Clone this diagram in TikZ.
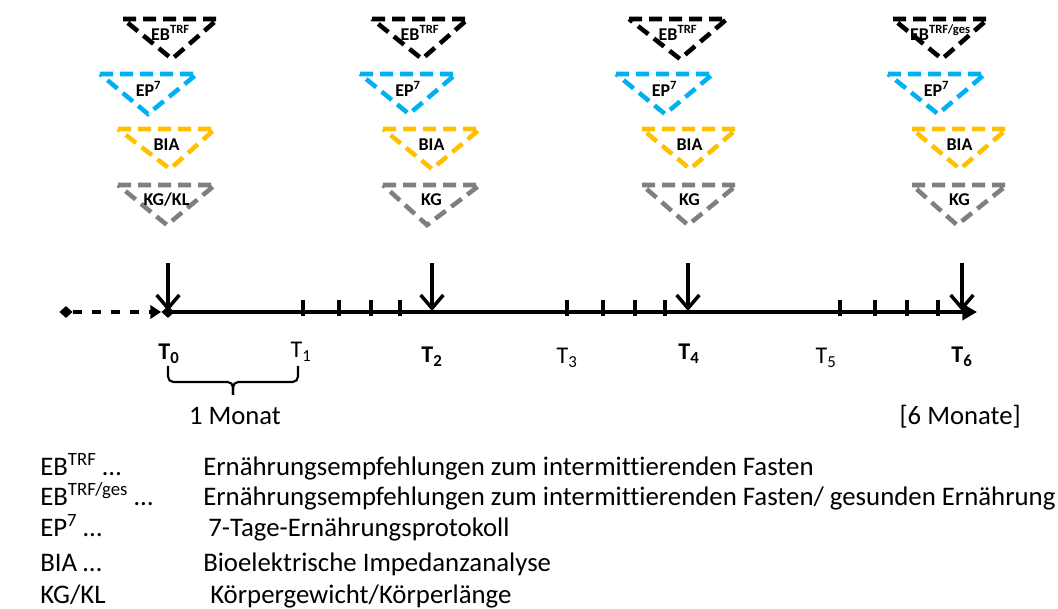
\documentclass[tikz,border=0pt]{standalone}
\usepackage{fontspec}
\setmainfont{Carlito}[Ligatures=NoCommon]
\usetikzlibrary{arrows.meta,shapes.geometric}
\definecolor{cblue}{HTML}{00B0F0}
\definecolor{cyellow}{HTML}{FFC000}
\definecolor{cgray}{HTML}{7F7F7F}
\tikzset{
  tri/.style={line width=3.4pt, dash pattern=on 9.75pt off 5.25pt, line join=miter},
  trilabel/.style={font=\fontsize{13.5}{15}\selectfont\bfseries, inner sep=0pt},
  tlabel/.style={font=\fontsize{18}{20}\selectfont, inner sep=0pt, anchor=base},
  big/.style={font=\fontsize{20}{22}\selectfont, inner sep=0pt},
  legend/.style={font=\fontsize{20.1}{22}\selectfont, inner sep=0pt, anchor=base west},
  downarrow/.style={line width=2.6pt, -{Straight Barb[length=10pt,width=17pt,line width=2.6pt]}},
  dmd/.style={diamond, fill=black, inner sep=0pt, minimum width=10pt, minimum height=9pt},
  tick/.style={line width=2.3pt}
}
\newcommand{\tria}[5]{% x1 x2 y apex color
  \draw[tri,#5] (#1,#3) -- (#2,#3) -- (#4,#3+40) -- cycle;}
\begin{document}
\begin{tikzpicture}[x=0.75pt,y=-0.75pt]
\useasboundingbox (0,0) rectangle (1058,609);
% --- triangles column 1
\tria{123}{218}{19}{172}{black}
\node[trilabel] (l1a) at (170.5,33) {EB\textsuperscript{TRF}};
\tria{100}{197}{74}{148}{cblue}
\node[trilabel] (l1b) at (148.5,89) {EP\textsuperscript{7}};
\tria{118}{215}{129}{170}{cyellow}
\node[trilabel] (l1c) at (166.5,145) {BIA};
\tria{118}{215}{185}{167}{cgray}
\node[trilabel] (l1d) at (166.5,200) {KG/KL};
% --- column 2
\tria{372}{468}{19}{422}{black}
\node[trilabel] (l2a) at (420,33) {EB\textsuperscript{TRF}};
\tria{360}{456}{74}{409}{cblue}
\node[trilabel] (l2b) at (408,89) {EP\textsuperscript{7}};
\tria{383}{480}{129}{432}{cyellow}
\node[trilabel] (l2c) at (431.5,145) {BIA};
\tria{383}{480}{185}{427}{cgray}
\node[trilabel] (l2d) at (431.5,200) {KG};
% --- column 3
\tria{629}{727}{19}{680}{black}
\node[trilabel] (l3a) at (678,33) {EB\textsuperscript{TRF}};
\tria{616}{713}{74}{665}{cblue}
\node[trilabel] (l3b) at (664.5,89) {EP\textsuperscript{7}};
\tria{642}{737}{129}{690}{cyellow}
\node[trilabel] (l3c) at (689.5,145) {BIA};
\tria{642}{737}{185}{688}{cgray}
\node[trilabel] (l3d) at (689.5,200) {KG};
% --- column 4
\tria{893}{988}{19}{942}{black}
\node[trilabel] (l4a) at (940.5,33) {EB\textsuperscript{TRF/ges}};
\tria{888}{985}{74}{938}{cblue}
\node[trilabel] (l4b) at (936.5,89) {EP\textsuperscript{7}};
\tria{912}{1007}{129}{960}{cyellow}
\node[trilabel] (l4c) at (959.5,145) {BIA};
\tria{912}{1007}{185}{957}{cgray}
\node[trilabel] (l4d) at (959.5,200) {KG};
% --- timeline
\node[dmd] (start) at (66,312) {};
\node[dmd] (t0) at (168,312) {};
\coordinate (end) at (977,312);
\draw[line width=2.6pt, dash pattern=on 6.75pt off 7.5pt, -{Triangle[length=8pt,width=10pt]}] (start) -- (t0.west);
\draw[line width=3pt, -{Triangle[length=11pt,width=12pt]}] (t0.center) -- (end);
% ticks
\foreach \x/\n in {303/k1,339/k2,371/k3,400/k4,567/k5,603/k6,635/k7,665/k8,840/k9,875/k10,907/k11,938/k12}{
  \coordinate (\n a) at (\x,300);
  \coordinate (\n b) at (\x,316);
  \draw[tick] (\n a) -- (\n b);
}
% down arrows
\foreach \x/\n in {168/a0,432/a2,688/a4,962/a6}{
  \coordinate (\n top) at (\x,263);
  \coordinate (\n bot) at (\x,311);
  \draw[downarrow] (\n top) -- (\n bot);
}
% T labels
\node[tlabel] (T0) at (169,360) {\bfseries T\textsubscript{0}};
\node[tlabel] (T1) at (301,358) {T\textsubscript{1}};
\node[tlabel] (T2) at (432,363) {\bfseries T\textsubscript{2}};
\node[tlabel] (T3) at (567,364) {T\textsubscript{3}};
\node[tlabel] (T4) at (689,360) {\bfseries T\textsubscript{4}};
\node[tlabel] (T5) at (826,364) {T\textsubscript{5}};
\node[tlabel] (T6) at (962,363) {\bfseries T\textsubscript{6}};
% brace
\coordinate (bl) at (168,366);
\coordinate (br) at (298,366);
\coordinate (bm) at (233,395);
\draw[line width=1.6pt, rounded corners=4pt] (bl) |- (bm |- 0,382) -- (bm);
\draw[line width=1.6pt, rounded corners=4pt] (br) |- (bm |- 0,382) -- (bm);
\node[big, anchor=base] (month) at (235,425) {1 Monat};
\node[big, anchor=base east] (months) at (1021,425) {[6 Monate]};
% legend
\node[legend] (k1) at (40,476) {EB\textsuperscript{TRF} …};
\node[legend] (k2) at (40,506) {EB\textsuperscript{TRF/ges} …};
\node[legend] (k3) at (40,537) {EP\textsuperscript{7} …};
\node[legend] (k4) at (40,572) {BIA …};
\node[legend] (k5) at (40,604) {KG/KL};
\node[legend] (v1) at (203,476) {Ernährungsempfehlungen zum intermittierenden Fasten};
\node[legend] (v2) at (203,506) {Ernährungsempfehlungen zum intermittierenden Fasten/ gesunden Ernährung};
\node[legend] (v3) at (208,537) {7-Tage-Ernährungsprotokoll};
\node[legend] (v4) at (203,572) {Bioelektrische Impedanzanalyse};
\node[legend] (v5) at (210,604) {Körpergewicht/Körperlänge};
\end{tikzpicture}
\end{document}
